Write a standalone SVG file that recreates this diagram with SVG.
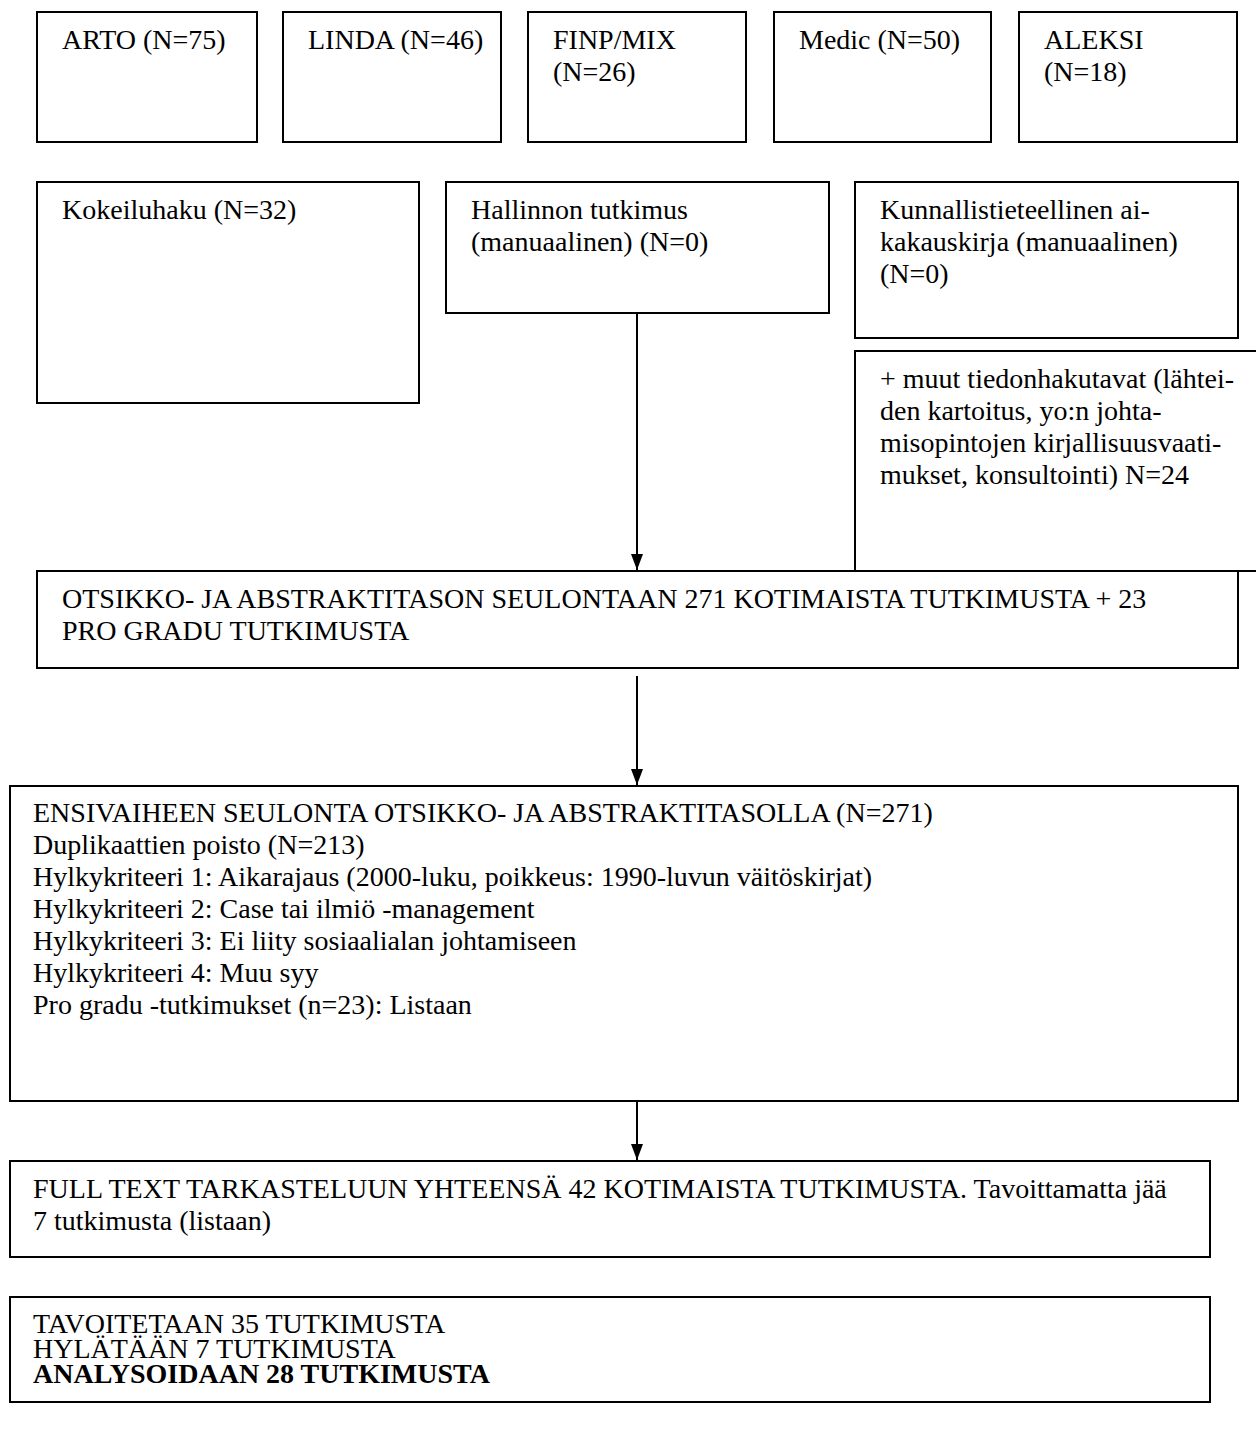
<svg xmlns="http://www.w3.org/2000/svg" width="1256" height="1434" viewBox="0 0 1256 1434">
<style>
.box{fill:#fff;stroke:#000;stroke-width:2}
.ln{fill:none;stroke:#000;stroke-width:2}
text{font-family:"Liberation Serif","Times New Roman",serif;font-size:28px;fill:#000}
.b{font-weight:bold}
</style>
<defs>
<marker id="ah" markerWidth="16" markerHeight="12" refX="16" refY="6" orient="auto" markerUnits="userSpaceOnUse" viewBox="0 0 16 12">
<path d="M0,0 L16,6 L0,12 Z" fill="#000"/>
</marker>
</defs>
<rect width="1256" height="1434" fill="#fff"/>
<g id="connectors">
<line class="ln" x1="637" y1="313" x2="637" y2="570" marker-end="url(#ah)"/>
<line class="ln" x1="637" y1="676" x2="637" y2="785" marker-end="url(#ah)"/>
<line class="ln" x1="637" y1="1101" x2="637" y2="1160" marker-end="url(#ah)"/>
</g>
<g id="arto"><rect class="box" x="37" y="12" width="220" height="130"/><text x="62" y="49">ARTO (N=75)</text></g>
<g id="linda"><rect class="box" x="283" y="12" width="218" height="130"/><text x="308" y="49">LINDA (N=46)</text></g>
<g id="finp"><rect class="box" x="528" y="12" width="218" height="130"/><text x="553" y="49">FINP/MIX</text><text x="553" y="81">(N=26)</text></g>
<g id="medic"><rect class="box" x="774" y="12" width="217" height="130"/><text x="799" y="49">Medic (N=50)</text></g>
<g id="aleksi"><rect class="box" x="1019" y="12" width="218" height="130"/><text x="1044" y="49">ALEKSI</text><text x="1044" y="81">(N=18)</text></g>
<g id="kokeiluhaku"><rect class="box" x="37" y="182" width="382" height="221"/><text x="62" y="219">Kokeiluhaku (N=32)</text></g>
<g id="hallinnon"><rect class="box" x="446" y="182" width="383" height="131"/><text x="471" y="219">Hallinnon tutkimus</text><text x="471" y="251">(manuaalinen) (N=0)</text></g>
<g id="kunnallis"><rect class="box" x="855" y="182" width="383" height="156"/><text x="880" y="219">Kunnallistieteellinen ai-</text><text x="880" y="251">kakauskirja (manuaalinen)</text><text x="880" y="283">(N=0)</text></g>
<g id="muut"><path class="ln" d="M1257,351 H855 V571 H1257"/><text x="880" y="388">+ muut tiedonhakutavat (lähtei-</text><text x="880" y="420">den kartoitus, yo:n johta-</text><text x="880" y="452">misopintojen kirjallisuusvaati-</text><text x="880" y="484">mukset, konsultointi) N=24</text></g>
<g id="otsikko"><rect class="box" x="37" y="571" width="1201" height="97"/><text x="62" y="608">OTSIKKO- JA ABSTRAKTITASON SEULONTAAN 271 KOTIMAISTA TUTKIMUSTA + 23</text><text x="62" y="640">PRO GRADU TUTKIMUSTA</text></g>
<g id="ensivaihe"><rect class="box" x="10" y="786" width="1228" height="315"/>
<text x="33" y="822">ENSIVAIHEEN SEULONTA OTSIKKO- JA ABSTRAKTITASOLLA (N=271)</text>
<text x="33" y="854">Duplikaattien poisto (N=213)</text>
<text x="33" y="886">Hylkykriteeri 1: Aikarajaus (2000-luku, poikkeus: 1990-luvun väitöskirjat)</text>
<text x="33" y="918">Hylkykriteeri 2: Case tai ilmiö -management</text>
<text x="33" y="950">Hylkykriteeri 3: Ei liity sosiaalialan johtamiseen</text>
<text x="33" y="982">Hylkykriteeri 4: Muu syy</text>
<text x="33" y="1014">Pro gradu -tutkimukset (n=23): Listaan</text>
</g>
<g id="fulltext"><rect class="box" x="10" y="1161" width="1200" height="96"/><text x="33" y="1198">FULL TEXT TARKASTELUUN YHTEENSÄ 42 KOTIMAISTA TUTKIMUSTA. Tavoittamatta jää</text><text x="33" y="1230">7 tutkimusta (listaan)</text></g>
<g id="tavoitetaan"><rect class="box" x="10" y="1297" width="1200" height="105"/><text x="33" y="1333">TAVOITETAAN 35 TUTKIMUSTA</text><text x="33" y="1358">HYLÄTÄÄN 7 TUTKIMUSTA</text><text class="b" x="33" y="1383">ANALYSOIDAAN 28 TUTKIMUSTA</text></g>
</svg>
